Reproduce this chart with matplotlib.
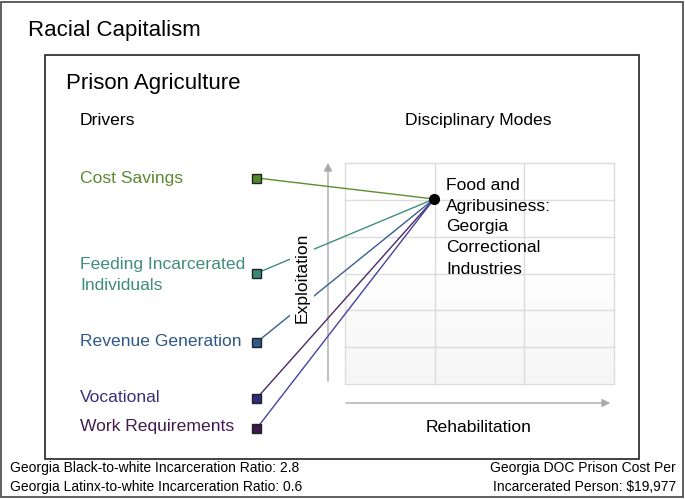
import numpy as np
import matplotlib
matplotlib.use('Agg')
from matplotlib import pyplot as plt
from matplotlib.patches import Rectangle

plt.rcParams['font.family'] = ['Liberation Sans', 'DejaVu Sans']

title = "Racial Capitalism"
subtitle = "Prison Agriculture"
drivers = ["Cost Savings", "Feeding Incarcerated\nIndividuals", "Revenue Generation",
           "Vocational", "Work Requirements"]
text_colors = ["#5b8a2f", "#3f8d7a", "#2f5887", "#3c2f7c", "#3f1c4c"]
box_colors = ["#4e8a28", "#3a8a77", "#2c5a8b", "#2f2d7d", "#3e1950"]
line_colors = ["#5a9030", "#3f8f7d", "#35608f", "#4a2a62", "#4443a0"]
mode_label = "Food and\nAgribusiness:\nGeorgia\nCorrectional\nIndustries"
x_axis_label = "Rehabilitation"
y_axis_label = "Exploitation"
stats_left = ["Georgia Black-to-white Incarceration Ratio: 2.8",
              "Georgia Latinx-to-white Incarceration Ratio: 0.6"]
stats_right = ["Georgia DOC Prison Cost Per", "Incarcerated Person: $19,977"]

# layout in pixel space
driver_y = [178, 273, 342, 398, 428]
label_y = [178, 274.5, 342, 398, 427]
box_x = 257
point = (434, 199)
fs = 12.6

fig = plt.figure(figsize=(6.85, 4.99), dpi=100)
ax = fig.add_axes([0, 0, 1, 1])
ax.set_xlim(0, 685)
ax.set_ylim(499, 0)
ax.axis('off')

# frames
ax.add_patch(Rectangle((1.5, 1.5), 681.5, 495, fill=False, ec='#444444', lw=1.2))
ax.add_patch(Rectangle((45, 55), 594, 404, fill=False, ec='#222222', lw=1.2))

ax.text(28, 30, title, fontsize=16, va='center')
ax.text(66, 83, subtitle, fontsize=16, va='center')
ax.text(80, 120, "Drivers", fontsize=fs, va='center')
ax.text(405, 120, "Disciplinary Modes", fontsize=fs, va='center')

# grid with soft gradient
gx0, gx1, gy0, gy1 = 345, 614, 163, 384
grad = np.linspace(0, 1, 200)
grad = np.clip((grad - 0.45) / 0.55, 0, 1)
ax.imshow(grad[:, None], extent=(gx0, gx1, gy1, gy0), cmap='Greys', vmin=0, vmax=12,
          aspect='auto', zorder=0)
for gx in np.linspace(gx0, gx1, 4):
    ax.plot([gx, gx], [gy0, gy1], color='#dcdcdc', lw=1, zorder=1)
for gy in np.linspace(gy0, gy1, 7):
    ax.plot([gx0, gx1], [gy, gy], color='#dcdcdc', lw=1, zorder=1)

# axes arrows
ax.annotate('', xy=(328, 160), xytext=(328, 384),
            arrowprops=dict(arrowstyle='-|>', color='#aaaaaa', lw=1, mutation_scale=12))
ax.annotate('', xy=(613, 403), xytext=(343, 403),
            arrowprops=dict(arrowstyle='-|>', color='#aaaaaa', lw=1, mutation_scale=12))
ax.text(479, 427, x_axis_label, fontsize=fs, ha='center', va='center')
ax.text(302, 278, y_axis_label, fontsize=fs, ha='center', va='center', rotation=90,
        bbox=dict(fc='white', ec='none', pad=3), zorder=4)

# drivers and links
for name, ty, by, tc, bc, lc in zip(drivers, label_y, driver_y, text_colors, box_colors, line_colors):
    ax.text(80, ty, name, fontsize=fs, color=tc, va='center', linespacing=1.5)
    ax.plot([box_x, point[0]], [by, point[1]], color=lc, lw=1, zorder=3)
    ax.add_patch(Rectangle((box_x - 4.5, by - 4.5), 9, 9, fc=bc, ec='#222222', lw=1, zorder=5))

ax.plot(*point, 'o', color='black', ms=7, zorder=6)
ax.text(446, 227, mode_label, fontsize=fs, va='center', linespacing=1.5, zorder=6)

for i, s in enumerate(stats_left):
    ax.text(10, 468 + 19 * i, s, fontsize=10, va='center')
for i, s in enumerate(stats_right):
    ax.text(676, 468 + 19 * i, s, fontsize=10, va='center', ha='right')

fig.savefig('out.png', dpi=100)
